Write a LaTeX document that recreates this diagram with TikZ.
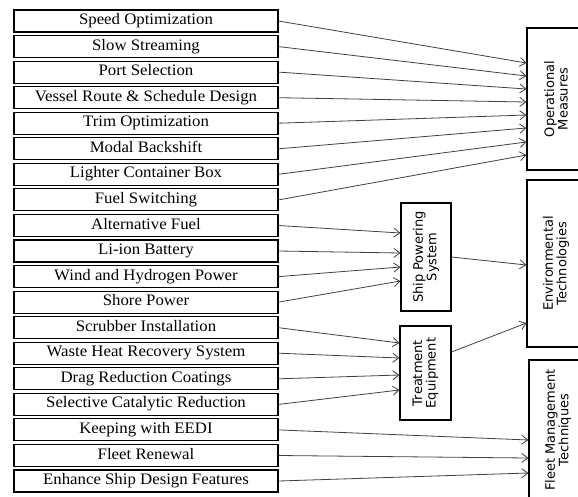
\documentclass[tikz,border=0pt]{standalone}
\usepackage{fontspec}
\setmainfont{Liberation Serif}[FakeStretch=1.05]
\newfontfamily\diagsans{DejaVu Sans}
\usetikzlibrary{arrows.meta}

\begin{document}
\begin{tikzpicture}[x=1pt, y=-1pt,
		measure/.style={draw, line width=1.1pt, minimum width=264pt, minimum height=22pt, inner sep=0pt, text height=11pt, text depth=4pt, font=\fontsize{16}{18}\selectfont},
		category/.style={draw, line width=1.1pt, rotate=90, inner sep=0pt, align=center, font=\diagsans\fontsize{13}{13.5}\selectfont},
		arrow/.style={-{Straight Barb[length=6pt, width=9pt]}, line width=0.8pt, black!75}
		]
		\clip (0,0) rectangle (578,496);
		
		% ----- Measures -----
		\node[measure] (m1) at (146, 21) {Speed Optimization};
		\node[measure] (m2) at (146, 46.6) {Slow Streaming};
		\node[measure] (m3) at (146, 72.1) {Port Selection};
		\node[measure] (m4) at (146, 97.7) {Vessel Route \& Schedule Design};
		\node[measure] (m5) at (146, 123.2) {Trim Optimization};
		\node[measure] (m6) at (146, 148.8) {Modal Backshift};
		\node[measure] (m7) at (146, 174.3) {Lighter Container Box};
		\node[measure] (m8) at (146, 199.9) {Fuel Switching};
		\node[measure] (m9) at (146, 225.5) {Alternative Fuel};
		\node[measure] (m10) at (146, 251) {Li-ion Battery};
		\node[measure] (m11) at (146, 276.6) {Wind and Hydrogen Power};
		\node[measure] (m12) at (146, 302.1) {Shore Power};
		\node[measure] (m13) at (146, 327.7) {Scrubber Installation};
		\node[measure] (m14) at (146, 353.2) {Waste Heat Recovery System};
		\node[measure] (m15) at (146, 378.8) {Drag Reduction Coatings};
		\node[measure] (m16) at (146, 404.4) {Selective Catalytic Reduction};
		\node[measure] (m17) at (146, 429.9) {Keeping with EEDI};
		\node[measure] (m18) at (146, 455.5) {Fleet Renewal};
		\node[measure] (m19) at (146, 481) {Enhance Ship Design Features};
		
		% ----- Groups -----
		\node[category, minimum width=108pt, minimum height=50pt] (sps) at (426, 257) {Ship Powering\\System};
		\node[category, minimum width=94pt, minimum height=51pt] (treat) at (425.5, 373) {Treatment\\Equipment};
		
		\node[category, minimum width=142pt, minimum height=58pt] (opm) at (556, 99) {Operational\\Measures};
		\node[category, minimum width=167pt, minimum height=58pt] (env) at (556, 263.5) {Environmental\\Technologies};
		\node[category, minimum width=140pt, minimum height=58pt] (fleet) at (558, 430) {Fleet Management\\Techniques};
		
		% Operational
		\draw[arrow] (m1.east) -- (opm.north |- 0,63);
		\draw[arrow] (m2.east) -- (opm.north |- 0,76);
		\draw[arrow] (m3.east) -- (opm.north |- 0,89);
		\draw[arrow] (m4.east) -- (opm.north |- 0,102);
		\draw[arrow] (m5.east) -- (opm.north |- 0,115);
		\draw[arrow] (m6.east) -- (opm.north |- 0,128);
		\draw[arrow] (m7.east) -- (opm.north |- 0,142);
		\draw[arrow] (m8.east) -- (opm.north |- 0,155);
		
		% Ship powering
		\draw[arrow] (m9.east) -- (sps.north |- 0,233);
		\draw[arrow] (m10.east) -- (sps.north |- 0,253);
		\draw[arrow] (m11.east) -- (sps.north |- 0,267);
		\draw[arrow] (m12.east) -- (sps.north |- 0,281);
		
		% Treatment
		\draw[arrow] (m13.east) -- (treat.north |- 0,343);
		\draw[arrow] (m14.east) -- (treat.north |- 0,358);
		\draw[arrow] (m15.east) -- (treat.north |- 0,375);
		\draw[arrow] (m16.east) -- (treat.north |- 0,390);
		
		% Fleet
		\draw[arrow] (m17.east) -- (fleet.north |- 0,440);
		\draw[arrow] (m18.east) -- (fleet.north |- 0,458);
		\draw[arrow] (m19.east) -- (fleet.north |- 0,473);
		
		% Environmental
		\draw[arrow] (sps.south) -- (env.north |- 0,265);
		\draw[arrow] (treat.south |- 0,352) -- (env.north |- 0,323);
		
	\end{tikzpicture}
\end{document}
